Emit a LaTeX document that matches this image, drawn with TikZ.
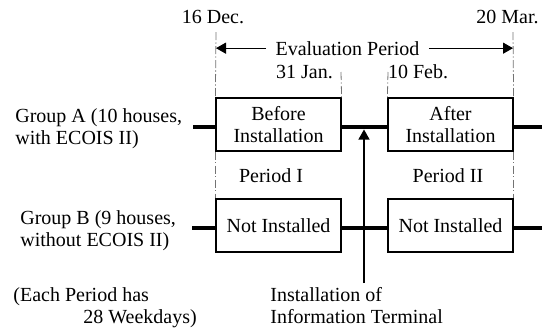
\documentclass[tikz,border=0pt]{standalone}
\usepackage{fontspec}
\setmainfont{Liberation Serif}
\usetikzlibrary{arrows.meta}

\definecolor{guide}{rgb}{0.45,0.45,0.45}

\begin{document}
\begin{tikzpicture}[x=0.5pt,y=-0.5pt,
    font=\fontsize{10}{11}\selectfont,
    every node/.style={inner sep=0pt},
    box/.style={draw,line width=0.6pt,minimum width=62.5pt,minimum height=26.5pt,align=center},
    bar/.style={line width=2.3pt},
    tick/.style={guide,line width=0.4pt,dash pattern=on 4pt off 1.2pt on 0.6pt off 1.2pt},
    tip/.style={line width=0.6pt,-{Triangle[length=5pt,width=5.5pt]}}]
        \useasboundingbox (0,0) rectangle (542,333);

        % boxes
        \node[box] (befA) at (278.5,124.5) {Before\\Installation};
        \node[box] (aftA) at (450.5,124.5) {After\\Installation};
        \node[box] (notB) at (278.5,225.5) {Not Installed};
        \node[box] (notBB) at (450.5,225.5) {Not Installed};

        % dates
        \node[anchor=base] (dec) at (213,23) {16 Dec.};
        \node[anchor=base] (mar) at (507.5,23) {20 Mar.};
        \node[anchor=base] (jan) at (304.5,78) {31 Jan.};
        \node[anchor=base] (feb) at (418,78) {10 Feb.};
        \node[anchor=base,inner xsep=4.5pt] (eval) at (347.5,55) {Evaluation Period};
        \node[anchor=base] (perI) at (271,182) {Period I};
        \node[anchor=base] (perII) at (448,182) {Period II};

        % groups and notes
        \node[anchor=west,align=left] (grpA) at (15,129) {Group A (10 houses,\\with ECOIS II)};
        \node[anchor=west,align=left] (grpB) at (20,231) {Group B (9 houses,\\without ECOIS II)};
        \node[anchor=west,align=left] (note) at (13,308) {(Each Period has\\\hspace*{35pt}28 Weekdays)};
        \node[anchor=west,align=left] (term) at (270,306) {Installation of\\Information Terminal};

        % guide lines
        \coordinate (d1) at (216,32);
        \coordinate (d2) at (341,72);
        \coordinate (d3) at (388,72);
        \coordinate (d4) at (513,32);
        \draw[tick] (d1) -- (befA.north west);
        \draw[tick] (d2) -- (befA.north east);
        \draw[tick] (d3) -- (aftA.north west);
        \draw[tick] (d4) -- (aftA.north east);
        \draw[tick] (befA.south west) -- (notB.north west);
        \draw[tick] (aftA.south east) -- (notBB.north east);

        % evaluation period
        \draw[tip] (eval.west) -- (d1 |- eval.west);
        \draw[tip] (eval.east) -- (d4 |- eval.east);

        % thick bars, a little below the box middles
        \coordinate (aL) at (193,127);
        \coordinate (aR) at (542,127);
        \coordinate (bL) at (192,228);
        \coordinate (bR) at (542,228);
        \draw[bar] (aL) -- ([yshift=-1.25pt]befA.west);
        \draw[bar] ([yshift=-1.25pt]befA.east) -- ([yshift=-1.25pt]aftA.west);
        \draw[bar] ([yshift=-1.25pt]aftA.east) -- (aR);
        \draw[bar] (bL) -- ([yshift=-1.25pt]notB.west);
        \draw[bar] ([yshift=-1.25pt]notB.east) -- ([yshift=-1.25pt]notBB.west);
        \draw[bar] ([yshift=-1.25pt]notBB.east) -- (bR);

        % installation arrow
        \coordinate (inst) at (364,283);
        \coordinate (hit) at (364,129.5);
        \draw[tip] (inst) -- (hit);
\end{tikzpicture}
\end{document}
